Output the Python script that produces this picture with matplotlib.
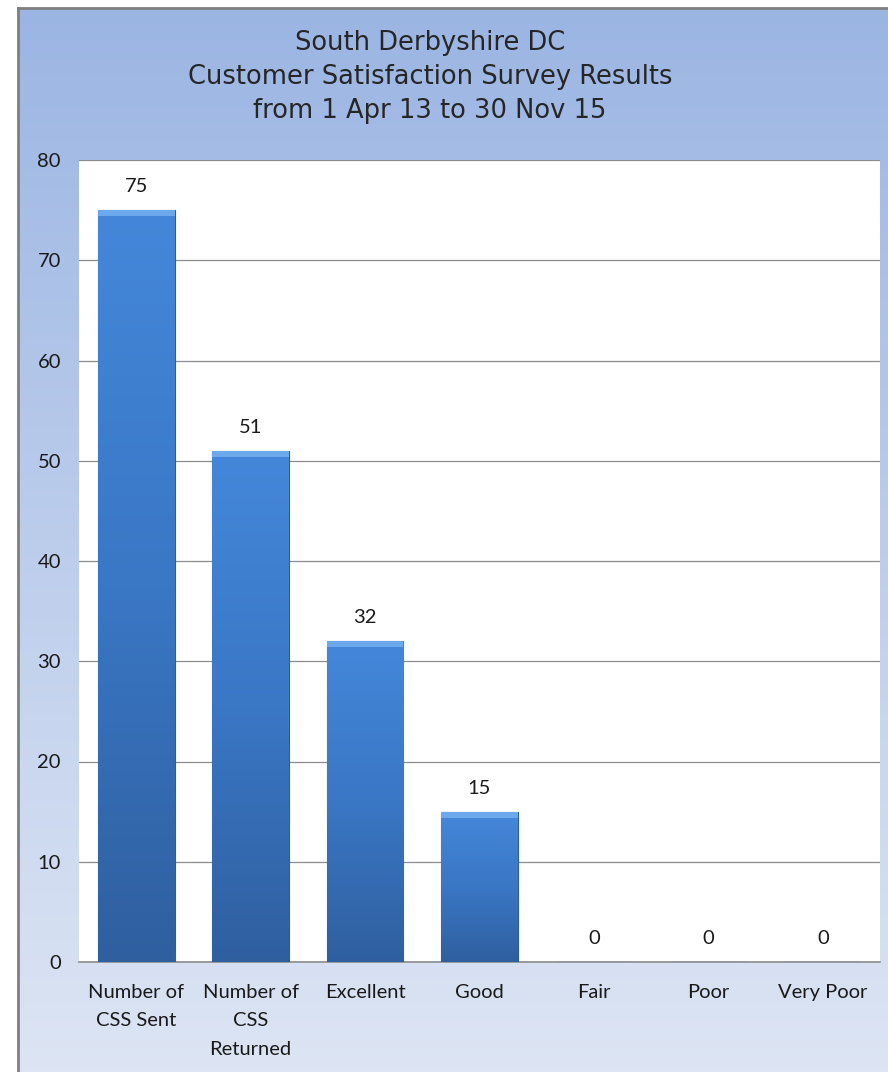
import numpy as np
import matplotlib.pyplot as plt
from matplotlib.colors import LinearSegmentedColormap

categories = ['Number of\nCSS Sent', 'Number of\nCSS\nReturned', 'Excellent', 'Good', 'Fair', 'Poor', 'Very Poor']
values = [75, 51, 32, 15, 0, 0, 0]
yticks = [0, 10, 20, 30, 40, 50, 60, 70, 80]
title_lines = 'South Derbyshire DC\nCustomer Satisfaction Survey Results\nfrom 1 Apr 13 to 30 Nov 15'

W, H = 888, 1072
fig = plt.figure(figsize=(W / 100, H / 100), dpi=100)
fig.patch.set_facecolor('white')

# chart background with vertical gradient
bg = fig.add_axes([18 / W, 0, 1 - 18 / W, 1 - 8 / H])
bg_cmap = LinearSegmentedColormap.from_list('bg', ['#dde5f4', '#9bb5e3'])
grad = np.linspace(0, 1, 256).reshape(-1, 1)
bg.imshow(grad, aspect='auto', cmap=bg_cmap, origin='lower', extent=[0, 1, 0, 1])
bg.set_xlim(0, 1)
bg.set_ylim(0, 1)
bg.set_xticks([])
bg.set_yticks([])
for s in ['top', 'bottom', 'right']:
    bg.spines[s].set_visible(False)
bg.spines['left'].set_color('#7f7f7f')
bg.spines['left'].set_linewidth(2)
bg.plot([0, 1], [1, 1], color='#7f7f7f', lw=2, clip_on=False)

fig.text(430 / W, 1 - 77 / H, title_lines, ha='center', va='center',
         fontsize=18.5, color='#262626', linespacing=1.4, family='DejaVu Sans')

left, right, top, bottom = 79, 880, 160, 962
ax = fig.add_axes([left / W, 1 - bottom / H, (right - left) / W, (bottom - top) / H])
ax.set_facecolor('white')
x = np.arange(len(categories))
bars = ax.bar(x, values, width=0.67, color='#3a76c4', edgecolor='#2d5c99', linewidth=0.8, zorder=3)

bar_cmap = LinearSegmentedColormap.from_list('bar', ['#2f5f9f', '#3a77c5', '#4487da'])
for b in bars:
    if b.get_height() <= 0:
        continue
    bx, by = b.get_x(), b.get_y()
    bw, bh = b.get_width(), b.get_height()
    im = ax.imshow(grad, aspect='auto', cmap=bar_cmap, origin='lower',
                   extent=[bx, bx + bw, by, by + bh], zorder=3.5)
    im.set_clip_path(b)
    # light bevel at top
    ax.fill_between([bx, bx + bw], by + bh - 0.6, by + bh, color='#6ca8ec', zorder=3.6, lw=0)

for xi, v in zip(x, values):
    ax.annotate(str(v), (xi, v), xytext=(0, 17), textcoords='offset points',
                ha='center', va='center', fontsize=14.5, color='#1a1a1a', family='Lato')

ax.set_xlim(-0.5, len(categories) - 0.5)
ax.set_ylim(0, 80)
ax.set_yticks(yticks)
ax.set_yticklabels([str(t) for t in yticks], fontsize=14.5, color='#1a1a1a', family='Lato')
ax.set_xticks(x)
ax.set_xticklabels(categories, fontsize=14.5, color='#1a1a1a', family='Lato', linespacing=1.8, va='top')
ax.tick_params(axis='both', length=0)
ax.tick_params(axis='x', pad=16)
ax.tick_params(axis='y', pad=13)
ax.grid(axis='y', color='#8c8c8c', linewidth=0.9, zorder=0)
ax.set_axisbelow(True)
for s in ['top', 'left', 'right']:
    ax.spines[s].set_visible(False)
ax.spines['bottom'].set_color('#8c8c8c')
ax.spines['bottom'].set_linewidth(1.2)

fig.savefig('out.png', dpi=100)
